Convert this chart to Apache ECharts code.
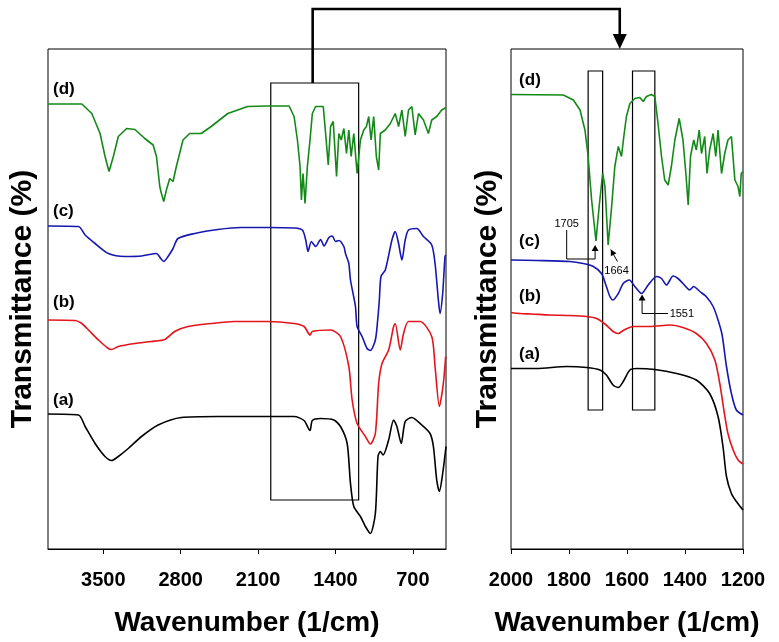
<!DOCTYPE html>
<html><head><meta charset="utf-8">
<script src="https://cdn.jsdelivr.net/npm/echarts@6/dist/echarts.min.js"></script>
<style>html,body{margin:0;padding:0;background:#fff}#c{width:779px;height:642px}</style>
</head><body><div id="c"></div>
<script>
// ---- tick labels ----
const fullTicks = [3500, 2800, 2100, 1400, 700];
const zoomTicks = [2000, 1800, 1600, 1400, 1200];
const curveNames = ['(a)', '(b)', '(c)', '(d)'];

// ---- full range spectra [wavenumber, transmittance (offset, a.u.)] ----
const fullA = [[4000,27.0],[3724,26.8],[3664,24.5],[3574,21.1],[3484,18.5],[3424,17.7],[3364,18.5],[3274,20.1],[3154,22.5],[3004,24.8],[2794,26.3],[2464,26.5],[2134,26.5],[1774,26.5],[1684,25.7],[1630,23.7],[1609,25.7],[1534,26.1],[1414,25.8],[1354,24.5],[1294,21.1],[1264,13.1],[1234,8.5],[1174,6.5],[1129,4.5],[1084,3.1],[1039,7.1],[1015,18.5],[994,19.5],[969,18.8],[919,21.8],[874,25.8],[844,24.5],[805,21.1],[769,25.5],[709,26.3],[619,24.8],[544,23.1],[514,20.5],[484,13.8],[460,11.5],[430,15.1],[400,20.5]];
const fullB = [[4000,45.8],[3754,45.7],[3694,45.1],[3634,43.8],[3544,41.8],[3454,40.1],[3424,39.9],[3364,40.5],[3214,41.1],[3064,41.5],[2944,41.9],[2854,43.5],[2734,44.5],[2524,45.1],[2314,45.5],[2014,45.5],[1774,45.1],[1684,44.5],[1630,42.8],[1609,43.5],[1444,43.8],[1354,42.5],[1279,36.5],[1249,29.8],[1204,25.1],[1129,22.5],[1084,21.0],[1039,23.1],[1009,33.1],[979,37.1],[919,39.8],[874,44.5],[859,45.1],[814,39.8],[784,43.1],[739,45.5],[634,45.5],[529,42.5],[499,36.5],[460,28.5],[424,33.1],[403,38.5]];
const fullC = [[4000,64.6],[3724,64.5],[3664,62.8],[3574,61.1],[3454,59.1],[3304,58.5],[3154,58.6],[3019,59.1],[2980,58.1],[2953,57.5],[2914,58.5],[2869,60.1],[2824,62.1],[2674,63.1],[2464,63.9],[2254,64.3],[2014,64.3],[1774,64.2],[1699,63.8],[1669,61.8],[1648,59.5],[1618,61.5],[1579,60.5],[1534,61.9],[1504,60.6],[1459,62.3],[1429,62.6],[1399,61.5],[1369,61.7],[1324,60.5],[1309,59.1],[1279,57.1],[1264,53.8],[1219,48.5],[1204,44.5],[1159,42.5],[1114,40.1],[1084,39.7],[1039,41.8],[1018,45.8],[1003,49.8],[988,54.5],[949,55.8],[889,61.8],[859,63.5],[829,61.1],[799,57.8],[769,61.8],[739,63.8],[664,64.1],[604,62.5],[529,60.8],[499,57.1],[469,49.8],[454,47.1],[430,51.1],[409,58.5],[400,58.8]];
const fullD = [[4000,89.0],[3694,89.0],[3604,87.1],[3529,83.1],[3484,78.5],[3448,75.5],[3409,78.5],[3364,82.5],[3289,84.1],[3214,83.9],[3124,82.1],[3049,80.8],[3019,78.5],[2989,72.5],[2974,71.1],[2953,69.5],[2929,71.8],[2899,74.1],[2869,73.5],[2839,76.5],[2779,81.8],[2719,83.1],[2614,83.1],[2524,84.5],[2374,87.1],[2194,88.5],[2014,88.6],[1819,88.6],[1774,86.5],[1744,81.8],[1720,76.5],[1708,69.8],[1693,75.1],[1675,69.1],[1654,76.5],[1630,81.8],[1609,87.1],[1579,88.5],[1510,88.5],[1489,83.1],[1465,76.8],[1444,84.5],[1420,85.5],[1408,81.1],[1390,74.5],[1369,83.1],[1348,81.8],[1324,84.1],[1300,79.1],[1279,83.8],[1258,78.5],[1234,83.1],[1204,75.1],[1174,81.8],[1144,83.8],[1120,84.5],[1099,86.5],[1078,81.8],[1054,86.5],[1030,78.5],[1009,75.8],[994,83.1],[949,83.8],[904,85.1],[859,87.1],[829,84.5],[799,87.8],[769,82.5],[739,87.8],[709,88.5],[679,82.8],[649,87.1],[604,85.8],[559,83.1],[529,85.8],[484,86.5],[439,87.8],[400,88.3]];

// ---- 2000-1200 detail spectra ----
const zoomA = [[2000,36.1],[1912,36.1],[1808,36.5],[1739,36.3],[1693,35.8],[1671,34.8],[1648,32.8],[1630,32.3],[1613,33.5],[1590,35.8],[1567,36.1],[1504,35.9],[1429,35.1],[1361,33.8],[1315,31.1],[1286,26.5],[1269,20.5],[1257,14.5],[1240,11.1],[1223,9.5],[1200,7.8]];
const zoomB = [[2000,47.3],[1969,47.1],[1929,47.0],[1866,46.8],[1797,46.7],[1739,46.5],[1705,46.1],[1676,45.0],[1648,43.5],[1630,43.1],[1613,43.7],[1579,44.5],[1521,44.5],[1452,44.8],[1407,44.3],[1361,43.1],[1326,41.1],[1297,37.8],[1280,33.1],[1266,27.8],[1252,23.1],[1234,19.8],[1217,17.8],[1200,17.0]];
const zoomC = [[2000,57.8],[1912,57.7],[1797,57.5],[1751,57.1],[1716,56.5],[1688,55.1],[1671,52.5],[1659,50.5],[1648,49.8],[1630,51.1],[1613,53.1],[1592,53.8],[1573,52.5],[1550,51.1],[1527,52.8],[1498,54.5],[1481,54.1],[1464,52.8],[1441,54.6],[1424,54.1],[1407,53.1],[1384,51.8],[1370,52.5],[1349,51.5],[1327,50.5],[1303,48.5],[1286,45.8],[1272,42.8],[1257,36.5],[1240,31.1],[1223,27.8],[1200,26.8]];
const zoomD = [[2000,90.9],[1820,90.8],[1785,89.8],[1762,87.8],[1745,83.8],[1734,78.5],[1722,69.8],[1707,61.6],[1696,68.5],[1684,75.1],[1676,72.5],[1665,60.8],[1653,68.5],[1642,76.5],[1630,80.5],[1619,78.5],[1611,82.5],[1602,86.5],[1590,89.1],[1573,90.1],[1556,90.3],[1544,89.5],[1533,90.5],[1516,90.9],[1504,90.5],[1493,85.1],[1481,78.5],[1470,73.8],[1458,72.8],[1447,76.5],[1435,81.8],[1420,86.1],[1407,81.8],[1397,75.1],[1389,68.8],[1381,78.5],[1370,81.8],[1361,79.8],[1351,83.8],[1343,79.1],[1332,82.5],[1324,75.1],[1315,79.8],[1303,83.1],[1294,78.5],[1286,83.8],[1274,75.1],[1263,79.1],[1252,81.8],[1240,82.5],[1228,73.8],[1217,72.5],[1211,70.5],[1206,75.1],[1200,75.5]];

// ---- highlighted bands and peak annotations ----
const detailRange = [1985, 1190];        // region enlarged in right panel
const bands = [[1734, 1684], [1581, 1504]];
const peakLabels = ['1705', '1664', '1551'];

const colors = ['#000000', '#e4141b', '#1616b0', '#138a18'];
const FONT = 'Liberation Sans, Arial, sans-serif';

const chart = echarts.init(document.getElementById('c'), null, {renderer: 'canvas'});

function xAxisCfg(idx, min, max, ticks, gap) {
  return {
    gridIndex: idx, type: 'value', inverse: true, min: min, max: max,
    interval: idx === 1 ? 200 : undefined,
    name: 'Wavenumber (1/cm)', nameLocation: 'middle', nameGap: gap,
    nameTextStyle: {fontFamily: FONT, fontSize: 28, fontWeight: 'bold', color: '#000'},
    axisLine: {show: true, lineStyle: {color: '#000', width: 1}},
    axisTick: {show: true, length: 5, inside: false, customValues: ticks, lineStyle: {color: '#000'}},
    axisLabel: {show: true, customValues: ticks, margin: 21, formatter: v => String(v),
      fontFamily: FONT, fontSize: 20, fontWeight: 'bold', color: '#000', showMinLabel: true, showMaxLabel: true},
    splitLine: {show: false}
  };
}
function yAxisCfg(idx, gap) {
  return {
    gridIndex: idx, type: 'value', min: 0, max: 100,
    name: 'Transmittance (%)', nameLocation: 'middle', nameGap: gap, nameRotate: 90,
    nameTextStyle: {fontFamily: FONT, fontSize: 30, fontWeight: 'bold', color: '#000'},
    axisLine: {show: false}, axisTick: {show: false}, axisLabel: {show: false}, splitLine: {show: false}
  };
}

const fullSets = [fullA, fullB, fullC, fullD];
const zoomSets = [zoomA, zoomB, zoomC, zoomD];
const series = [];
fullSets.forEach((d, i) => series.push({
  type: 'line', xAxisIndex: 0, yAxisIndex: 0, data: d, showSymbol: false, symbol: 'none',
  smooth: i < 3 ? 0.25 : false,
  lineStyle: {color: colors[i], width: 1.6}, silent: true
}));
zoomSets.forEach((d, i) => series.push({
  type: 'line', xAxisIndex: 1, yAxisIndex: 1, data: d, showSymbol: false, symbol: 'none',
  smooth: i < 3 ? 0.25 : false,
  lineStyle: {color: colors[i], width: 1.6}, silent: true
}));
const boxStyle = {color: 'rgba(0,0,0,0)', borderColor: '#000', borderWidth: 1.2};
series[0].markArea = {silent: true, label: {show: false}, itemStyle: boxStyle,
  data: [[{xAxis: detailRange[0], yAxis: 93.2}, {xAxis: detailRange[1], yAxis: 9.8}]]};
series[4].markArea = {silent: true, label: {show: false}, itemStyle: boxStyle,
  data: bands.map(b => [{xAxis: b[0], yAxis: 95.6}, {xAxis: b[1], yAxis: 27.8}])};

chart.setOption({
  animation: false,
  backgroundColor: '#fff',
  grid: [
    {left: 46, top: 49, width: 400, height: 500, show: true, borderColor: '#000', borderWidth: 1, backgroundColor: 'rgba(0,0,0,0)'},
    {left: 511, top: 49, width: 232, height: 500, show: true, borderColor: '#000', borderWidth: 1, backgroundColor: 'rgba(0,0,0,0)'}
  ],
  xAxis: [xAxisCfg(0, 400, 4000, fullTicks, 60), xAxisCfg(1, 1200, 2000, zoomTicks, 60)],
  yAxis: [yAxisCfg(0, 10), yAxisCfg(1, 8)],
  series: series
});

// ---- overlay: curve labels, connector, peak annotations ----
const P0 = (x, y) => chart.convertToPixel({gridIndex: 0}, [x, y]);
const P1 = (x, y) => chart.convertToPixel({gridIndex: 1}, [x, y]);
const g = [];
const lblStyle = (t) => ({text: t, fontFamily: FONT, fontSize: 17, fontWeight: 'bold', fill: '#000', textAlign: 'left', textVerticalAlign: 'middle'});
const fullLabelY = [29.8, 49.3, 67.6, 91.9];
const zoomLabelY = [38.9, 50.5, 61.5, 93.8];
curveNames.forEach((n, i) => {
  const a = P0(3955, fullLabelY[i]);
  g.push({type: 'text', x: a[0], y: a[1], style: lblStyle(n)});
  const b = P1(1972, zoomLabelY[i]);
  g.push({type: 'text', x: b[0], y: b[1], style: lblStyle(n)});
});

// connector from detail box to right panel
const c0 = P0(1606, 93.2);
const c1 = P1(1625, 100);
const topY = 9;
g.push({type: 'polyline', shape: {points: [[c0[0], c0[1]], [c0[0], topY], [c1[0], topY], [c1[0], c1[1] - 14]]},
  style: {stroke: '#000', lineWidth: 2.6, fill: null}});
g.push({type: 'polygon', shape: {points: [[c1[0] - 7, c1[1] - 15], [c1[0] + 7, c1[1] - 15], [c1[0], c1[1]]]}, style: {fill: '#000'}});

function arrowHead(tip, from, len, half) {
  const dx = tip[0] - from[0], dy = tip[1] - from[1];
  const L = Math.hypot(dx, dy); const ux = dx / L, uy = dy / L;
  const bx = tip[0] - ux * len, by = tip[1] - uy * len;
  return {type: 'polygon', shape: {points: [[tip[0], tip[1]], [bx - uy * half, by + ux * half], [bx + uy * half, by - ux * half]]}, style: {fill: '#000'}};
}
const smallTxt = (t, align) => ({text: t, fontFamily: FONT, fontSize: 11, fill: '#000', textAlign: align, textVerticalAlign: 'middle'});
const thin = {stroke: '#000', lineWidth: 1, fill: null};

// 1705
{
  const tip = P1(1710, 60.8), k1 = P1(1710, 58.0), k2 = P1(1808, 58.0), k3 = P1(1808, 63.8), t = P1(1808, 65.0);
  g.push({type: 'polyline', shape: {points: [[tip[0], tip[1] + 5], k1, k2, k3]}, style: thin});
  g.push(arrowHead(tip, k1, 6, 3.5));
  g.push({type: 'text', x: t[0], y: t[1], style: smallTxt(peakLabels[0], 'center')});
}
// 1664
{
  const tip = P1(1656, 59.9), tail = P1(1633, 57.5), t = P1(1636, 55.6);
  g.push({type: 'line', shape: {x1: tail[0], y1: tail[1], x2: tip[0], y2: tip[1]}, style: thin});
  g.push(arrowHead(tip, tail, 6, 3.2));
  g.push({type: 'text', x: t[0], y: t[1], style: smallTxt(peakLabels[1], 'center')});
}
// 1551
{
  const tip = P1(1548, 50.9), k1 = P1(1548, 47.1), k2 = P1(1458, 47.1), t = P1(1453, 47.1);
  g.push({type: 'polyline', shape: {points: [[tip[0], tip[1] + 5], k1, k2]}, style: thin});
  g.push(arrowHead(tip, k1, 6, 3.5));
  g.push({type: 'text', x: t[0], y: t[1], style: smallTxt(peakLabels[2], 'left')});
}

chart.setOption({graphic: {elements: g}});
</script>
</body></html>
